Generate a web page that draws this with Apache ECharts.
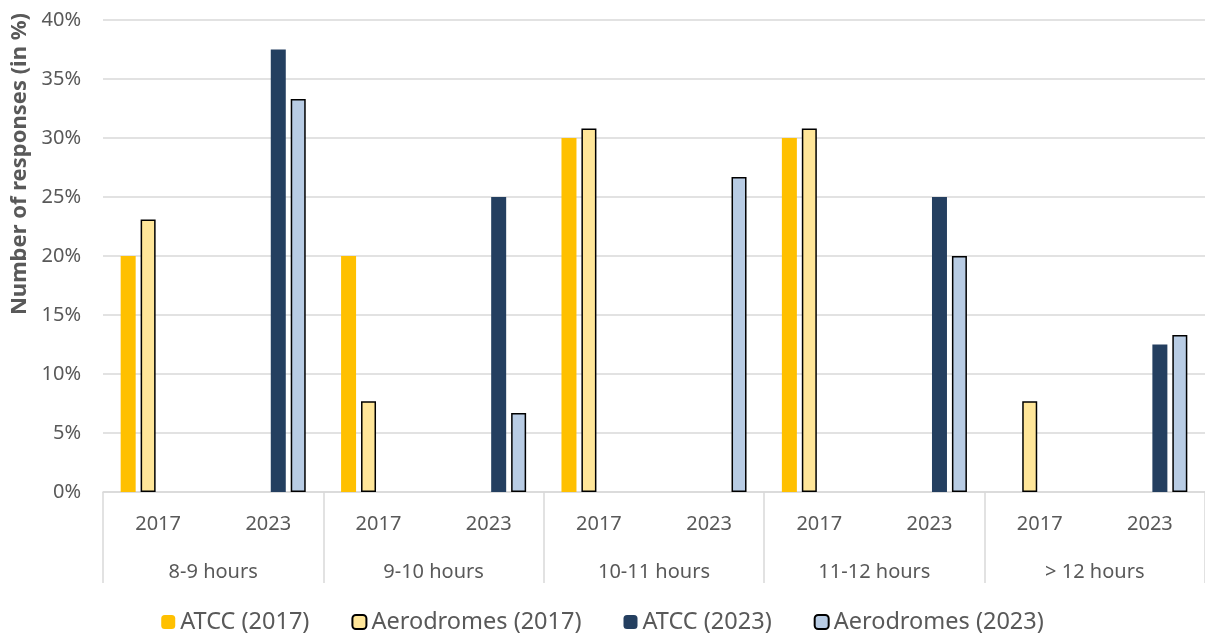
<!DOCTYPE html>
<html>
<head>
<meta charset="utf-8">
<script src="https://cdn.jsdelivr.net/npm/echarts@6/dist/echarts.min.js"></script>
<style>html,body{margin:0;padding:0;background:#fff}#c{width:1205px;height:636px}</style>
</head>
<body>
<div id="c"></div>
<script>
const groups = ['8-9 hours', '9-10 hours', '10-11 hours', '11-12 hours', '> 12 hours'];
const years = ['2017', '2023', '2017', '2023', '2017', '2023', '2017', '2023', '2017', '2023'];
const atcc2017 = [20, null, 20, null, 30, null, 30, null, 0, null];
const aero2017 = [23.1, null, 7.7, null, 30.8, null, 30.8, null, 7.7, null];
const atcc2023 = [null, 37.5, null, 25, null, 0, null, 25, null, 12.5];
const aero2023 = [null, 33.3, null, 6.7, null, 26.7, null, 20, null, 13.3];
const yTicks = [0, 5, 10, 15, 20, 25, 30, 35, 40];

const FONT = 'Noto Sans';
const GREY = '#595959';
const chart = echarts.init(document.getElementById('c'));
function bar(name, data, color, border) {
  return {
    name, type: 'bar', data, barWidth: 15, barGap: '33%',
    xAxisIndex: 0,
    itemStyle: border ? { color, borderColor: '#000', borderWidth: 1.5 } : { color }
  };
}
chart.setOption({
  animation: false,
  textStyle: { fontFamily: FONT },
  grid: { left: 103, right: 0, top: 20, bottom: 144 },
  legend: {
    bottom: 2, padding: 0, left: 'center', itemWidth: 14, itemHeight: 14, itemGap: 42,
    textStyle: { fontSize: 23.5, color: GREY, fontFamily: FONT }
  },
  xAxis: [
    {
      type: 'category', data: years, position: 'bottom',
      axisLine: { lineStyle: { color: '#d9d9d9', width: 1.5 } },
      axisTick: { show: false },
      axisLabel: { color: GREY, fontSize: 20, margin: 22, fontFamily: FONT }
    },
    {
      type: 'category', data: groups, position: 'bottom',
      axisLine: { show: false },
      axisTick: { show: true, length: 91, lineStyle: { color: '#d9d9d9', width: 1.5 } },
      axisLabel: { color: GREY, fontSize: 20, margin: 70, fontFamily: FONT }
    }
  ],
  yAxis: {
    type: 'value', min: yTicks[0], max: yTicks[yTicks.length - 1], interval: 5,
    axisLine: { show: false }, axisTick: { show: false },
    splitLine: { lineStyle: { color: '#d9d9d9', width: 1.5 } },
    axisLabel: { formatter: '{value}%', color: GREY, fontSize: 20, margin: 22, fontFamily: FONT }
  },
  graphic: [{
    type: 'text', x: 20, y: 164, rotation: Math.PI / 2,
    style: {
      text: 'Number of responses (in %)', fill: GREY, fontSize: 22, fontWeight: 'bold',
      fontFamily: FONT, textAlign: 'center', textVerticalAlign: 'middle'
    }
  }],
  series: [
    bar('ATCC (2017)', atcc2017, '#FFC000', false),
    bar('Aerodromes (2017)', aero2017, '#FFE699', true),
    bar('ATCC (2023)', atcc2023, '#243F60', false),
    bar('Aerodromes (2023)', aero2023, '#B8CCE4', true)
  ]
});
</script>
</body>
</html>
